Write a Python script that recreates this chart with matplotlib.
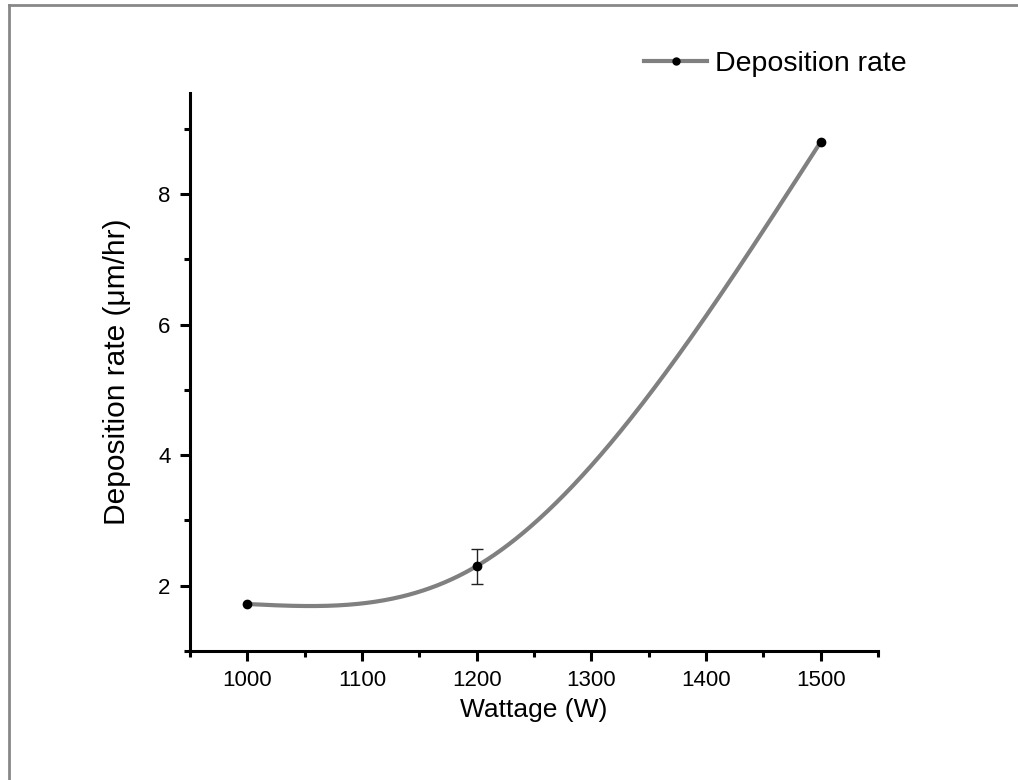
import numpy as np
import matplotlib
matplotlib.use("Agg")
import matplotlib.pyplot as plt
from matplotlib.ticker import MultipleLocator
from matplotlib.lines import Line2D

plt.rcParams['font.family'] = ['Liberation Sans', 'DejaVu Sans']

wattage = [1000, 1200, 1500]
rate = [1.72, 2.30, 8.80]
rate_err = [0.02, 0.27, 0.0]
series_label = "Deposition rate"
x_label = "Wattage (W)"
y_label = "Deposition rate (\u03bcm/hr)"


def natural_spline(x, y, xs):
    x = np.asarray(x, float); y = np.asarray(y, float)
    n = len(x)
    h = np.diff(x)
    A = np.zeros((n, n)); b = np.zeros(n)
    A[0, 0] = 1; A[-1, -1] = 1
    for i in range(1, n - 1):
        A[i, i - 1] = h[i - 1]
        A[i, i] = 2 * (h[i - 1] + h[i])
        A[i, i + 1] = h[i]
        b[i] = 6 * ((y[i + 1] - y[i]) / h[i] - (y[i] - y[i - 1]) / h[i - 1])
    M = np.linalg.solve(A, b)
    out = np.empty_like(xs, dtype=float)
    for k, xv in enumerate(xs):
        i = min(max(np.searchsorted(x, xv) - 1, 0), n - 2)
        t1 = x[i + 1] - xv; t0 = xv - x[i]
        out[k] = (M[i] * t1 ** 3 + M[i + 1] * t0 ** 3) / (6 * h[i]) \
            + (y[i] / h[i] - M[i] * h[i] / 6) * t1 \
            + (y[i + 1] / h[i] - M[i + 1] * h[i] / 6) * t0
    return out


fig = plt.figure(figsize=(10.18, 7.8), dpi=100)
ax = fig.add_axes([0.1866, 0.1654, 0.8625 - 0.1866, 0.8808 - 0.1654])

xs = np.linspace(min(wattage), max(wattage), 400)
ax.plot(xs, natural_spline(wattage, rate, xs), color='#808080', lw=3.0,
        solid_capstyle='butt', zorder=2)
for xv, yv, ev in zip(wattage, rate, rate_err):
    if ev > 0:
        cs = 4 if ev > 0.1 else 2.5
        ax.errorbar([xv], [yv], yerr=[ev], fmt='none', ecolor='#222222',
                    elinewidth=1.0, capsize=cs, capthick=1.0, zorder=3)
ax.plot(wattage, rate, 'o', color='black', ms=6, zorder=4)

ax.set_xlim(950, 1550)
ax.set_ylim(1.0, 9.55)
ax.xaxis.set_major_locator(MultipleLocator(100))
ax.xaxis.set_minor_locator(MultipleLocator(50))
ax.yaxis.set_major_locator(MultipleLocator(2))
ax.yaxis.set_minor_locator(MultipleLocator(1))

for s in ['top', 'right']:
    ax.spines[s].set_visible(False)
for s in ['left', 'bottom']:
    ax.spines[s].set_linewidth(2.2)
ax.tick_params(which='major', direction='out', length=7, width=2.2,
               labelsize=16, pad=7)
ax.tick_params(which='minor', direction='out', length=4, width=2.2)

ax.set_xlabel(x_label, fontsize=19)
ax.set_ylabel(y_label, fontsize=21.5)
ax.xaxis.set_label_coords(0.5, -0.085)
ax.yaxis.set_label_coords(-0.085, 0.5)

handle = Line2D([], [], color='#808080', lw=3.0, marker='o', ms=5,
                markerfacecolor='black', markeredgecolor='black')
leg = fig.legend([handle], [series_label], loc='center left',
                 bbox_to_anchor=(0.619, 0.918), frameon=False, fontsize=20.5,
                 handlelength=2.2, handletextpad=0.28, borderpad=0)

# outer frame (left and top edges visible)
fig.add_artist(Line2D([9 / 1018, 9 / 1018], [0, 1 - 5 / 780],
                      color='#888888', lw=2, transform=fig.transFigure))
fig.add_artist(Line2D([9 / 1018, 1], [1 - 5 / 780, 1 - 5 / 780],
                      color='#888888', lw=2, transform=fig.transFigure))

fig.savefig('out.png', dpi=100)
